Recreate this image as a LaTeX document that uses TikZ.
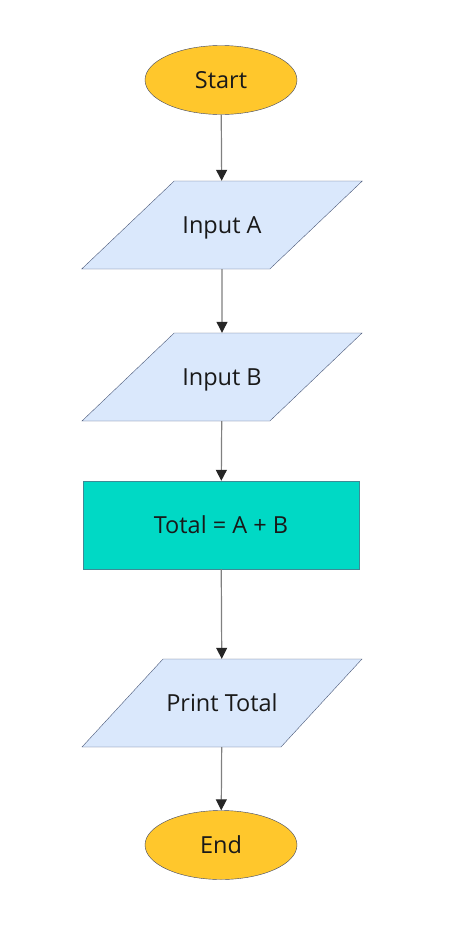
\documentclass[tikz,border=0pt]{standalone}
\usepackage{fontspec}
\setmainfont{Open Sans}
\usetikzlibrary{shapes.geometric,arrows.meta}

\definecolor{termfill}{HTML}{FFC72C}
\definecolor{termline}{HTML}{3C4566}
\definecolor{iofill}{HTML}{DAE8FC}
\definecolor{ioline}{HTML}{4A5878}
\definecolor{procfill}{HTML}{00D9C5}
\definecolor{procline}{HTML}{3E8A96}
\definecolor{flowline}{HTML}{808080}

\tikzset{
  terminal/.style={ellipse,draw=termline,fill=termfill,minimum width=152pt,minimum height=69pt,inner sep=0pt},
  iobox/.style={trapezium,trapezium left angle=49,trapezium right angle=131,trapezium stretches=true,
    draw=ioline,fill=iofill,minimum width=281pt,minimum height=88pt,
    inner xsep=0pt,inner ysep=32pt,text height=20pt,text depth=4pt},
  procbox/.style={rectangle,draw=procline,fill=procfill,minimum width=276pt,minimum height=88pt,inner sep=0pt},
  flow/.style={draw=flowline,line width=1.2pt,-{Triangle[width=11pt,length=11pt,color=black!85]}}
}

\begin{document}
\begin{tikzpicture}[x=1pt,y=1pt,every node/.style={font=\fontsize{23.5}{28}\selectfont,text=black!90}]
        \useasboundingbox (0,0) rectangle (452,-948);
        \node[terminal] (start) at (221,-80) {Start};
        \node[iobox] (inA) at (222,-225) {Input A};
        \node[iobox] (inB) at (222,-377) {Input B};
        \node[procbox] (total) at (221,-525) {Total = A + B};
        \node[iobox] (print) at (222,-703) {Print Total};
        \node[terminal] (end) at (221,-845) {End};
        \draw[flow] (start) -- (inA);
        \draw[flow] (inA) -- (inB);
        \draw[flow] (inB) -- (total);
        \draw[flow] (total) -- (print);
        \draw[flow] (print) -- (end);
\end{tikzpicture}
\end{document}
